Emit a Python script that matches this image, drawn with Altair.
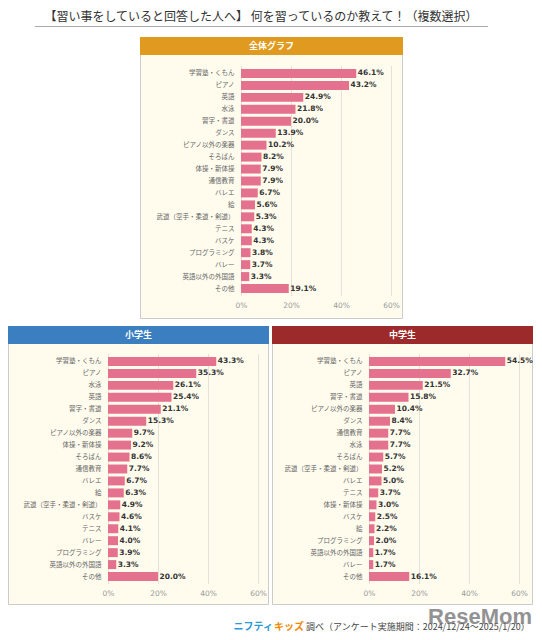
import altair as alt
import pandas as pd

# ---------------- data ----------------
overall_cats = ["学習塾・くもん", "ピアノ", "英語", "水泳", "習字・書道", "ダンス", "ピアノ以外の楽器",
                "そろばん", "体操・新体操", "通信教育", "バレエ", "絵", "武道（空手・柔道・剣道）",
                "テニス", "バスケ", "プログラミング", "バレー", "英語以外の外国語", "その他"]
overall_vals = [46.1, 43.2, 24.9, 21.8, 20.0, 13.9, 10.2, 8.2, 7.9, 7.9, 6.7, 5.6, 5.3,
                4.3, 4.3, 3.8, 3.7, 3.3, 19.1]

elem_cats = ["学習塾・くもん", "ピアノ", "水泳", "英語", "習字・書道", "ダンス", "ピアノ以外の楽器",
             "体操・新体操", "そろばん", "通信教育", "バレエ", "絵", "武道（空手・柔道・剣道）",
             "バスケ", "テニス", "バレー", "プログラミング", "英語以外の外国語", "その他"]
elem_vals = [43.3, 35.3, 26.1, 25.4, 21.1, 15.3, 9.7, 9.2, 8.6, 7.7, 6.7, 6.3, 4.9,
             4.6, 4.1, 4.0, 3.9, 3.3, 20.0]

jh_cats = ["学習塾・くもん", "ピアノ", "英語", "習字・書道", "ピアノ以外の楽器", "ダンス", "通信教育",
           "水泳", "そろばん", "武道（空手・柔道・剣道）", "バレエ", "テニス", "体操・新体操",
           "バスケ", "絵", "プログラミング", "英語以外の外国語", "バレー", "その他"]
jh_vals = [54.5, 32.7, 21.5, 15.8, 10.4, 8.4, 7.7, 7.7, 5.7, 5.2, 5.0, 3.7, 3.0,
           2.5, 2.2, 2.0, 1.7, 1.7, 16.1]

x_ticks = [0, 20, 40, 60]

title_text = "【習い事をしていると回答した人へ】 何を習っているのか教えて！（複数選択）"
panel_titles = ["全体グラフ", "小学生", "中学生"]
footer_logo_1 = "ニフティ"
footer_logo_2 = "キッズ"
footer_text = "調べ（アンケート実施期間：2024/12/24～2025/1/20）"
watermark = "ReseMom"

# ---------------- styles ----------------
PW, H = 150, 230          # plotted bar-area width (0-60 %) and height
BAR = "#E4718E"
CREAM = "#FFFCEE"
FRAME = "#CCCCCC"
HEAD_COLORS = ["#E09A1F", "#3B7FC1", "#9C2A2A"]
JP = "Noto Sans CJK JP"
NUM = "DejaVu Sans"

one = pd.DataFrame({"k": [0]})


def box(x, x2, y, y2, fill, stroke=None):
    kw = dict(fill=fill)
    if stroke:
        kw.update(stroke=stroke, strokeWidth=1)
    return alt.Chart(one).mark_rect(**kw).encode(
        x=alt.value(x), x2=alt.value(x2), y=alt.value(y), y2=alt.value(y2))


def label(text, x, y, size, color, font=JP, weight="normal", align="center", opacity=1.0):
    return alt.Chart(one).mark_text(
        text=text, font=font, fontSize=size, color=color, fontWeight=weight,
        align=align, baseline="middle", opacity=opacity
    ).encode(x=alt.value(x), y=alt.value(y))


def panel(cats, vals, title, hcolor, x0, width, fx, fx2, fy, fy2, extras):
    """x0: pixel where 0 % sits inside this view; frame coords relative to the view."""
    df = pd.DataFrame({"item": cats, "pct": vals})
    xs = alt.Scale(domain=[0, 60], nice=False, range=[x0, x0 + PW])
    ys = alt.Scale(paddingInner=0.25, paddingOuter=0.25)
    xaxis = alt.Axis(values=x_ticks, labelExpr="datum.value + '%'", grid=False,
                     domain=False, ticks=False, labelFont=NUM, labelFontSize=7.5,
                     labelColor="#999999", labelPadding=5, labelFlush=False,
                     zindex=1, title=None)
    yaxis = alt.Axis(domain=False, ticks=False, labelFont=JP, labelFontSize=6.5,
                     labelColor="#666666", labelPadding=7, zindex=1, title=None,
                     offset=-x0)
    bg = box(fx, fx2, fy, fy2, CREAM, FRAME)
    head = box(fx - 0.5, fx2 + 0.5, fy - 0.5, fy + 17.5, hcolor)
    htxt = label(title, (fx + fx2) / 2, fy + 8.5, 9, "white", weight="bold")
    grid = alt.Chart(pd.DataFrame({"pct": x_ticks})).mark_rule(
        color="#E4E1D6", strokeWidth=1, xOffset=0.5
    ).encode(x=alt.X("pct:Q", scale=xs, axis=xaxis), y=alt.value(0), y2=alt.value(H))
    base = alt.Chart(df)
    bars = base.mark_bar(color=BAR).encode(
        x=alt.X("pct:Q", scale=xs, axis=xaxis),
        y=alt.Y("item:N", sort=cats, scale=ys, axis=yaxis),
    )
    text = base.transform_calculate(
        lab="format(datum.pct, '.1f') + '%'"
    ).mark_text(
        align="left", baseline="middle", dx=1.5, font=NUM, fontSize=7.5,
        fontWeight="bold", color="#333333"
    ).encode(
        x=alt.X("pct:Q", scale=xs, axis=xaxis),
        y=alt.Y("item:N", sort=cats, scale=ys, axis=yaxis),
        text="lab:N",
    )
    return alt.layer(bg, head, htxt, grid, bars, text, *extras).properties(width=width, height=H)


SP = 111                    # gap between the two lower plot areas
TOTAL = PW + SP + PW        # 411
TX = 133                    # offset of the top panel's 0 % inside its view

# top panel extras: page anchor, title and underline (coords relative to top view)
top_extras = [
    box(TX - 60, TX - 40, -58, -56, "white"),
    label(title_text, TX + 20, -49.5, 12, "#333333"),
    alt.Chart(one).mark_rule(color="#AAAAAA", strokeWidth=1).encode(
        x=alt.value(TX - 206), x2=alt.value(TX + 247), y=alt.value(-39.5)),
]

FY = 273   # footer line, relative to the lower plots' top
right_extras = [
    label(footer_logo_1, -96, FY, 10, "#2B9BD8", weight="bold", align="right"),
    label(footer_logo_2, -65, FY, 10, "#EE8A00", weight="bold", align="right"),
    label(footer_text, -63, FY, 9, "#444444", align="left"),
    label(watermark, 111, 263, 22, "#6E6E6E", font="Liberation Sans", weight="bold", opacity=0.75),
]

top = panel(overall_cats, overall_vals, panel_titles[0], HEAD_COLORS[0], TX, TOTAL,
            TX - 100.5, TX + 161.5, -28.5, 252.5, top_extras)
left = panel(elem_cats, elem_vals, panel_titles[1], HEAD_COLORS[1], 0, PW,
             -99.5, 160.5, -27.5, 250.5, [])
right = panel(jh_cats, jh_vals, panel_titles[2], HEAD_COLORS[2], 0, PW,
              -96.5, 163.5, -27.5, 250.5, right_extras)

row = alt.hconcat(left, right, spacing=SP, bounds="flush")
chart = alt.vconcat(top, row, spacing=58, bounds="flush").properties(
    padding=0, background="white"
).configure_view(strokeWidth=0)

chart.save("out.html", embed_options={"renderer": "svg", "actions": False})
